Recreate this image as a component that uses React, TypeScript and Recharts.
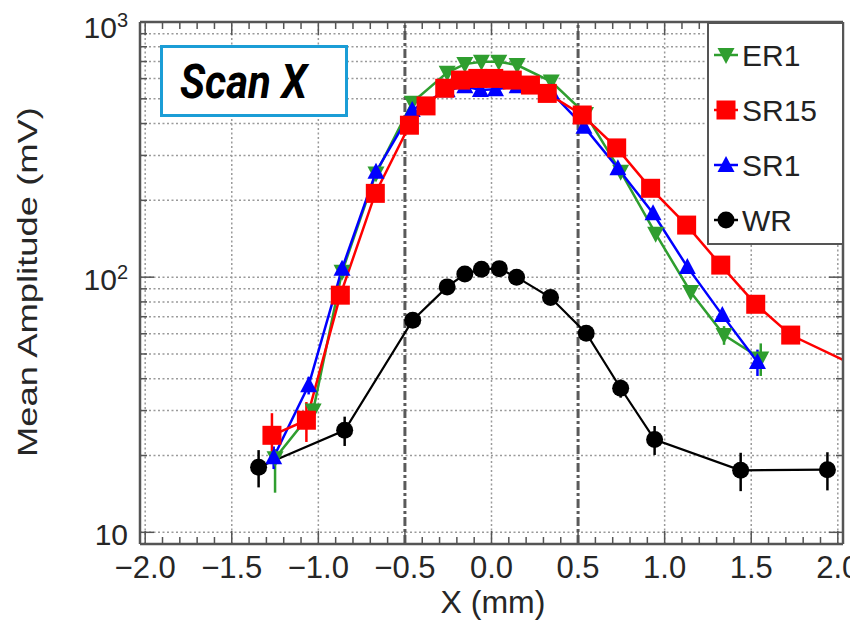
import React from "react";
import { LineChart, Line, XAxis, YAxis, ReferenceLine, ErrorBar, Legend } from "recharts";

// scan positions X (mm) and mean amplitudes (mV)
const er1X = [-1.25, -1.03, -0.863, -0.667, -0.458, -0.256, -0.154, -0.058, 0.042, 0.148, 0.345, 0.543, 0.746, 0.948, 1.15, 1.343, 1.555];
const er1Y = [19.5, 30, 105, 255, 483, 633, 684, 699, 699, 678, 584, 436, 259, 148, 87.5, 59.3, 48];
const er1Err = [[5.2, 1.7], [2, 2], [3, 3], [8, 8], [15, 15], [18, 18], [20, 20], [20, 20], [20, 20], [20, 20], [17, 17], [13, 13], [8, 8], [5, 5], [4, 4], [5, 5], [7, 7]];

const sr15X = [-1.268, -1.069, -0.873, -0.671, -0.474, -0.378, -0.27, -0.179, -0.079, 0.013, 0.12, 0.225, 0.322, 0.524, 0.723, 0.919, 1.127, 1.324, 1.526, 1.728, 2.13];
const sr15Y = [24, 27.5, 85, 213, 394, 469, 550, 592, 601, 601, 592, 566, 525, 432, 321, 223, 160, 111.5, 78.3, 59.3, 44];
const sr15Err = [[4, 5.3], [4.9, 4.9], [3, 3], [6, 6], [12, 12], [14, 14], [16, 16], [17, 17], [18, 18], [18, 18], [17, 17], [16, 16], [15, 15], [13, 13], [9, 9], [7, 7], [5, 5], [4, 4], [3, 3], [3, 3], [3, 3]];

const sr1X = [-1.258, -1.056, -0.863, -0.667, -0.458, -0.256, -0.154, -0.064, 0.023, 0.148, 0.345, 0.534, 0.73, 0.933, 1.131, 1.333, 1.536];
const sr1Y = [19.7, 37.7, 108, 259, 452, 540, 560, 541, 545, 560, 530, 389, 267, 178, 109.7, 71, 46.5];
const sr1Err = [[2, 2], [3, 3], [3, 3], [8, 8], [13, 13], [16, 16], [17, 17], [16, 16], [16, 16], [17, 17], [16, 16], [12, 12], [8, 8], [5, 5], [4, 4], [4, 4], [5.5, 5.5]];

const wrX = [-1.345, -0.848, -0.455, -0.256, -0.154, -0.058, 0.045, 0.145, 0.341, 0.547, 0.746, 0.942, 1.439, 1.94];
const wrY = [18, 25.1, 67.8, 91.6, 102.8, 107.5, 108, 100, 83.2, 60.3, 36.7, 23.1, 17.5, 17.6];
const wrErr = [[3, 3], [3.3, 3.3], [3, 3], [3, 3], [3, 3], [3, 3], [3, 3], [3, 3], [3, 3], [3, 3], [3, 3], [3, 3], [3, 3], [3, 3]];

const X_MAJOR_TICKS = [-2, -1.5, -1, -0.5, 0, 0.5, 1, 1.5, 2];
const X_TICK_LABELS = ["\u22122.0", "\u22121.5", "\u22121.0", "\u22120.5", "0.0", "0.5", "1.0", "1.5", "2.0"];
const X_MINOR_TICKS = Array.from({ length: 41 }, (_, i) => Math.round((-2 + i * 0.1) * 10) / 10);
const X_GRID = [-2, -1.5, -1, 0, 1, 1.5, 2];
const X_CUTS = [-0.5, 0.5];

const Y_MAJOR_TICKS = [10, 100, 1000];
const Y_TICK_EXP = ["", "2", "3"];
const Y_MINOR_TICKS = [10, 20, 30, 40, 50, 60, 70, 80, 90, 100, 200, 300, 400, 500, 600, 700, 800, 900, 1000];

const LEGEND_ORDER = ["ER1", "SR15", "SR1", "WR"];

const COLORS: Record<string, string> = { ER1: "#2f9e2f", SR15: "#ff0000", SR1: "#0000ff", WR: "#000000" };
const SHAPES: Record<string, string> = { ER1: "down", SR15: "square", SR1: "up", WR: "circle" };

const toPoints = (xs: number[], ys: number[], errs: number[][]) =>
  xs.map((x, i) => ({ x, y: ys[i], err: errs[i] }));

const er1Data = toPoints(er1X, er1Y, er1Err);
const sr15Data = toPoints(sr15X, sr15Y, sr15Err);
const sr1Data = toPoints(sr1X, sr1Y, sr1Err);
const wrData = toPoints(wrX, wrY, wrErr);

const W = 850;
const H = 616;
const PLOT_LEFT = 132;
const PLOT_TOP = 14;
const PLOT_RIGHT = 835;
const PLOT_BOTTOM = 536;
const Y_AXIS_W = 60;
const X_AXIS_H = 40;
const FONT = "'Liberation Sans', Arial, Helvetica, sans-serif";
const FRAME = "#555";

function marker(shape: string, cx: number, cy: number, color: string, key?: any) {
  if (shape === "square") return <rect key={key} x={cx - 9.5} y={cy - 9.5} width={19} height={19} fill={color} />;
  if (shape === "circle") return <circle key={key} cx={cx} cy={cy} r={8.5} fill={color} />;
  if (shape === "up")
    return <polygon key={key} points={`${cx - 8.5},${cy + 7} ${cx + 8.5},${cy + 7} ${cx},${cy - 9}`} fill={color} />;
  return <polygon key={key} points={`${cx - 8.5},${cy - 7} ${cx + 8.5},${cy - 7} ${cx},${cy + 9}`} fill={color} />;
}

const dotFor = (name: string) => (p: any) => {
  if (p.cx == null || p.cy == null) return <g key={p.index} />;
  return marker(SHAPES[name], p.cx, p.cy, COLORS[name], p.index);
};

const isHalf = (v: number) => Math.abs(v * 2 - Math.round(v * 2)) < 1e-6;

const BottomTick = (props: any) => {
  const { x, payload } = props;
  const v = payload.value;
  const major = isHalf(v);
  const idx = X_MAJOR_TICKS.findIndex((t) => Math.abs(t - v) < 1e-6);
  return (
    <g>
      <line x1={x} x2={x} y1={PLOT_BOTTOM} y2={PLOT_BOTTOM - (major ? 13 : 7)} stroke={FRAME} strokeWidth={1.5} />
      {idx >= 0 && (
        <text x={x} y={570} textAnchor="middle" fontSize={31} fontFamily={FONT} fill="#262626">
          {X_TICK_LABELS[idx]}
        </text>
      )}
    </g>
  );
};

const TopTick = (props: any) => {
  const { x, payload } = props;
  const major = isHalf(payload.value);
  return <line x1={x} x2={x} y1={PLOT_TOP} y2={PLOT_TOP + (major ? 13 : 7)} stroke={FRAME} strokeWidth={1.5} />;
};

const LeftTick = (props: any) => {
  const { y, payload } = props;
  const idx = Y_MAJOR_TICKS.indexOf(payload.value);
  const major = idx >= 0;
  // the top label sits a little lower so it stays inside the frame
  const base = y + (idx === Y_MAJOR_TICKS.length - 1 ? 16 : 13);
  return (
    <g>
      <line x1={PLOT_LEFT} x2={PLOT_LEFT + (major ? 14 : 7)} y1={y} y2={y} stroke={FRAME} strokeWidth={1.5} />
      {major && (
        <text x={120} y={base} textAnchor="end" fontSize={30} fontFamily={FONT} fill="#262626">
          10
          {Y_TICK_EXP[idx] && (
            <tspan fontSize={20} dy={-11}>
              {Y_TICK_EXP[idx]}
            </tspan>
          )}
        </text>
      )}
    </g>
  );
};

const RightTick = (props: any) => {
  const { y, payload } = props;
  const major = Y_MAJOR_TICKS.indexOf(payload.value) >= 0;
  return <line x1={PLOT_RIGHT} x2={PLOT_RIGHT - (major ? 14 : 7)} y1={y} y2={y} stroke={FRAME} strokeWidth={1.5} />;
};

const XTitle = () => (
  <text x={485} y={605} textAnchor="middle" fontSize={32} fontFamily={FONT} fill="#262626">
    X (mm)
  </text>
);

const YTitle = () => (
  <text
    x={29}
    y={274}
    transform="rotate(-90 29 274)"
    textAnchor="middle"
    fontSize={28}
    fontFamily={FONT}
    fill="#262626"
    textLength={350}
    lengthAdjust="spacingAndGlyphs"
  >
    Mean Amplitude (mV)
  </text>
);

const LegendBox = (props: any) => {
  const payload = props.payload || [];
  const items = LEGEND_ORDER.map((n) => payload.find((p: any) => p.value === n)).filter(Boolean);
  return (
    <svg width={137} height={223} style={{ display: "block" }}>
      <rect x={1} y={1} width={135} height={221} fill="#fff" stroke={FRAME} strokeWidth={2} />
      {items.map((p: any, i: number) => {
        const cy = 33 + i * 55;
        return (
          <g key={p.value}>
            <line x1={7} x2={31} y1={cy} y2={cy} stroke={COLORS[p.value]} strokeWidth={2.5} />
            {marker(SHAPES[p.value], 19, cy, COLORS[p.value])}
            <text x={35} y={cy + 11} fontSize={30} fontFamily={FONT} fill="#222">
              {p.value}
            </text>
          </g>
        );
      })}
    </svg>
  );
};

const gridStyle = { stroke: "#9a9a9a", strokeWidth: 1.5, strokeDasharray: "2 2.5" };

export default function App() {
  return (
    <div style={{ position: "relative", width: W, height: H, background: "#fff" }}>
      <LineChart
        width={W}
        height={H}
        style={{ overflow: "visible" }}
        margin={{
          top: PLOT_TOP - 1,
          right: W - PLOT_RIGHT - 1,
          left: PLOT_LEFT - Y_AXIS_W,
          bottom: H - PLOT_BOTTOM - X_AXIS_H,
        }}
      >
        <XAxis
          dataKey="x"
          type="number"
          domain={[-2.03, 2.03]}
          allowDataOverflow
          ticks={X_MINOR_TICKS}
          interval={0}
          height={X_AXIS_H}
          tick={<BottomTick />}
          tickLine={false}
          axisLine={{ stroke: FRAME, strokeWidth: 2.5 }}
          label={<XTitle />}
        />
        <XAxis
          xAxisId="top"
          orientation="top"
          dataKey="x"
          type="number"
          domain={[-2.03, 2.03]}
          allowDataOverflow
          ticks={X_MINOR_TICKS}
          interval={0}
          height={1}
          tick={<TopTick />}
          tickLine={false}
          axisLine={{ stroke: FRAME, strokeWidth: 2.5 }}
        />
        <YAxis
          type="number"
          scale="log"
          domain={[9, 1000]}
          allowDataOverflow
          ticks={Y_MINOR_TICKS}
          interval={0}
          width={Y_AXIS_W}
          tick={<LeftTick />}
          tickLine={false}
          axisLine={{ stroke: FRAME, strokeWidth: 2.5 }}
          label={<YTitle />}
        />
        <YAxis
          yAxisId="right"
          orientation="right"
          type="number"
          scale="log"
          domain={[9, 1000]}
          allowDataOverflow
          ticks={Y_MINOR_TICKS}
          interval={0}
          width={1}
          tick={<RightTick />}
          tickLine={false}
          axisLine={{ stroke: FRAME, strokeWidth: 2.5 }}
        />
        {Y_MINOR_TICKS.filter((v) => v < 1000).map((v) => (
          <ReferenceLine key={`h${v}`} y={v} {...gridStyle} />
        ))}
        {X_GRID.map((v) => (
          <ReferenceLine key={`v${v}`} x={v} {...gridStyle} />
        ))}
        {X_CUTS.map((v) => (
          <ReferenceLine key={`c${v}`} x={v} stroke="#5a5a5a" strokeWidth={3} strokeDasharray="9 3 3 3" />
        ))}

        <Line data={er1Data} dataKey="y" name="ER1" stroke={COLORS.ER1} strokeWidth={2.5} dot={dotFor("ER1")} activeDot={false} isAnimationActive={false}>
          <ErrorBar dataKey="err" width={0} strokeWidth={2.5} stroke={COLORS.ER1} direction="y" isAnimationActive={false} />
        </Line>
        <Line data={sr1Data} dataKey="y" name="SR1" stroke={COLORS.SR1} strokeWidth={2.5} dot={dotFor("SR1")} activeDot={false} isAnimationActive={false}>
          <ErrorBar dataKey="err" width={0} strokeWidth={2.5} stroke={COLORS.SR1} direction="y" isAnimationActive={false} />
        </Line>
        <Line data={sr15Data} dataKey="y" name="SR15" stroke={COLORS.SR15} strokeWidth={2.5} dot={dotFor("SR15")} activeDot={false} isAnimationActive={false}>
          <ErrorBar dataKey="err" width={0} strokeWidth={2.5} stroke={COLORS.SR15} direction="y" isAnimationActive={false} />
        </Line>
        <Line data={wrData} dataKey="y" name="WR" stroke={COLORS.WR} strokeWidth={2.2} dot={dotFor("WR")} activeDot={false} isAnimationActive={false}>
          <ErrorBar dataKey="err" width={0} strokeWidth={2.5} stroke={COLORS.WR} direction="y" isAnimationActive={false} />
        </Line>

        <Legend
          layout="vertical"
          align="center"
          verticalAlign="middle"
          content={<LegendBox />}
          wrapperStyle={{ position: "absolute", left: 699, top: PLOT_TOP, width: 137, height: 223 }}
        />
      </LineChart>
      <div
        style={{
          position: "absolute",
          left: 152,
          top: 37,
          width: 188,
          height: 72,
          boxSizing: "border-box",
          border: "3px solid #1b9dd6",
          background: "#fff",
          display: "flex",
          alignItems: "center",
          paddingLeft: 17,
          fontFamily: "Roboto, 'Liberation Sans', Arial, sans-serif",
          fontWeight: 700,
          fontStyle: "italic",
          fontSize: 42,
          color: "#000",
        }}
      >
        <span style={{ display: "inline-block", transform: "scaleY(1.12)" }}>Scan X</span>
      </div>
    </div>
  );
}
